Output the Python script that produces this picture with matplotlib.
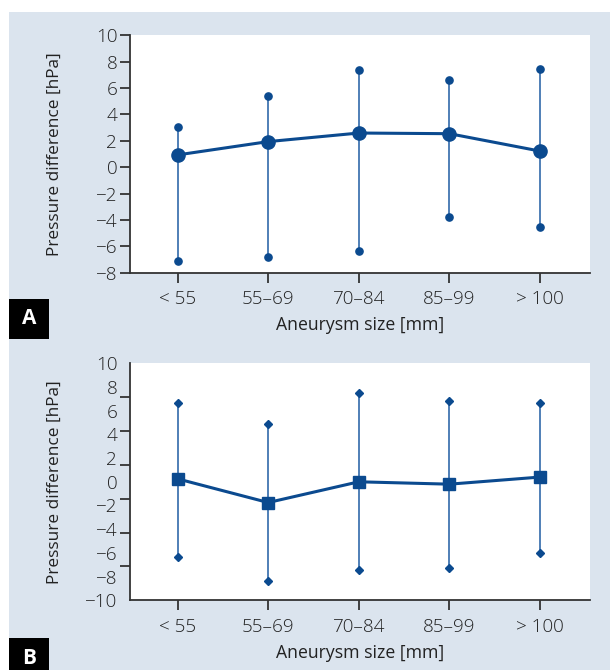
import numpy as np
import matplotlib.pyplot as plt
from matplotlib.patches import Rectangle

# data to plot
categories = ['< 55', '55–69', '70–84', '85–99', '> 100']

mean_a = [0.93, 1.94, 2.59, 2.54, 1.22]
upper_a = [3.07, 5.37, 7.40, 6.61, 7.42]
lower_a = [-7.12, -6.78, -6.35, -3.80, -4.51]

mean_b = [0.25, -1.75, 0.0, -0.2, 0.4]
upper_b = [6.68, 4.88, 7.47, 6.85, 6.62]
lower_b = [-6.34, -8.40, -7.41, -7.24, -6.03]

plt.rcParams['font.family'] = ['Open Sans', 'DejaVu Sans']
plt.rcParams['font.weight'] = 'light'

dark = '#0b4a8f'
light = '#3169aa'
bg = '#dbe4ee'
txt = '#222222'

W, H = 610, 670
fig = plt.figure(figsize=(W / 100, H / 100), dpi=100)
fig.patch.set_facecolor('white')
fig.patches.append(Rectangle((9 / W, 0), 1 - 9 / W, 1 - 12 / H,
                             transform=fig.transFigure, facecolor=bg,
                             edgecolor='none', zorder=-5))


def px_axes(top, bottom):
    left, right = 130.4, 589.5
    return fig.add_axes([left / W, 1 - bottom / H, (right - left) / W,
                         (bottom - top) / H])


def style(ax, ylim):
    ax.set_facecolor('white')
    for s in ('top', 'right'):
        ax.spines[s].set_visible(False)
    for s in ('left', 'bottom'):
        ax.spines[s].set_color('#333333')
        ax.spines[s].set_linewidth(1.3)
    ax.set_xlim(-0.52, 4.545)
    ax.set_ylim(*ylim)
    x = np.arange(len(categories))
    ax.set_xticks(x)
    ax.set_xticklabels(categories)
    ax.tick_params(axis='both', colors='#333333', labelcolor=txt,
                   labelsize=13.6, length=7, width=1.3)
    ax.tick_params(axis='x', pad=5.5)
    ax.tick_params(axis='y', pad=2.5)
    ax.set_xlabel('Aneurysm size [mm]', fontsize=12.7, color=txt, labelpad=6)
    ax.set_ylabel('Pressure difference [hPa]', fontsize=12.4, color=txt)
    ax.yaxis.set_label_coords(-0.147, 0.5)
    return x


def panel_label(letter, top):
    fig.patches.append(Rectangle((9 / W, 1 - (top + 40) / H), 40 / W, 40 / H,
                                 transform=fig.transFigure, facecolor='black',
                                 edgecolor='none', zorder=1))
    fig.text(29 / W, 1 - (top + 20) / H, letter, color='white',
             fontsize=15, fontweight='bold', ha='center', va='center')


# panel A
ax1 = px_axes(35.3, 272.7)
x = style(ax1, (-8, 10))
ax1.set_yticks(np.arange(-8, 11, 2))
ax1.set_yticklabels([str(v).replace('-', '−') for v in range(-8, 11, 2)])
ax1.vlines(x, lower_a, upper_a, color=light, lw=1.2, zorder=2)
ax1.plot(x, upper_a, 'o', color=dark, ms=5.2, zorder=3, clip_on=False)
ax1.plot(x, lower_a, 'o', color=dark, ms=5.2, zorder=3, clip_on=False)
ax1.plot(x, mean_a, '-o', color=dark, lw=2.2, ms=9.5, zorder=4)
panel_label('A', 299)

# panel B
ax2 = px_axes(363.3, 600.3)
x = style(ax2, (-10, 10))
ax2.set_yticks(np.arange(-10, 11, 2))
ax2.set_yticklabels([str(v).replace('-', '−') for v in range(-10, 11, 2)])
ax2.set_yticks(np.linspace(-10, 10, 8), minor=True)
ax2.tick_params(axis='y', which='major', length=0, pad=9.5)
ax2.tick_params(axis='y', which='minor', length=7, width=1.3,
                colors='#333333')
ax2.vlines(x, lower_b, upper_b, color=light, lw=1.2, zorder=2)
ax2.plot(x, upper_b, 'D', color=dark, ms=4, zorder=3, clip_on=False)
ax2.plot(x, lower_b, 'D', color=dark, ms=4, zorder=3, clip_on=False)
ax2.plot(x, mean_b, '-s', color=dark, lw=2.2, ms=8.5, zorder=4)
panel_label('B', 638)

plt.savefig('out.png', dpi=100, facecolor=fig.get_facecolor())
